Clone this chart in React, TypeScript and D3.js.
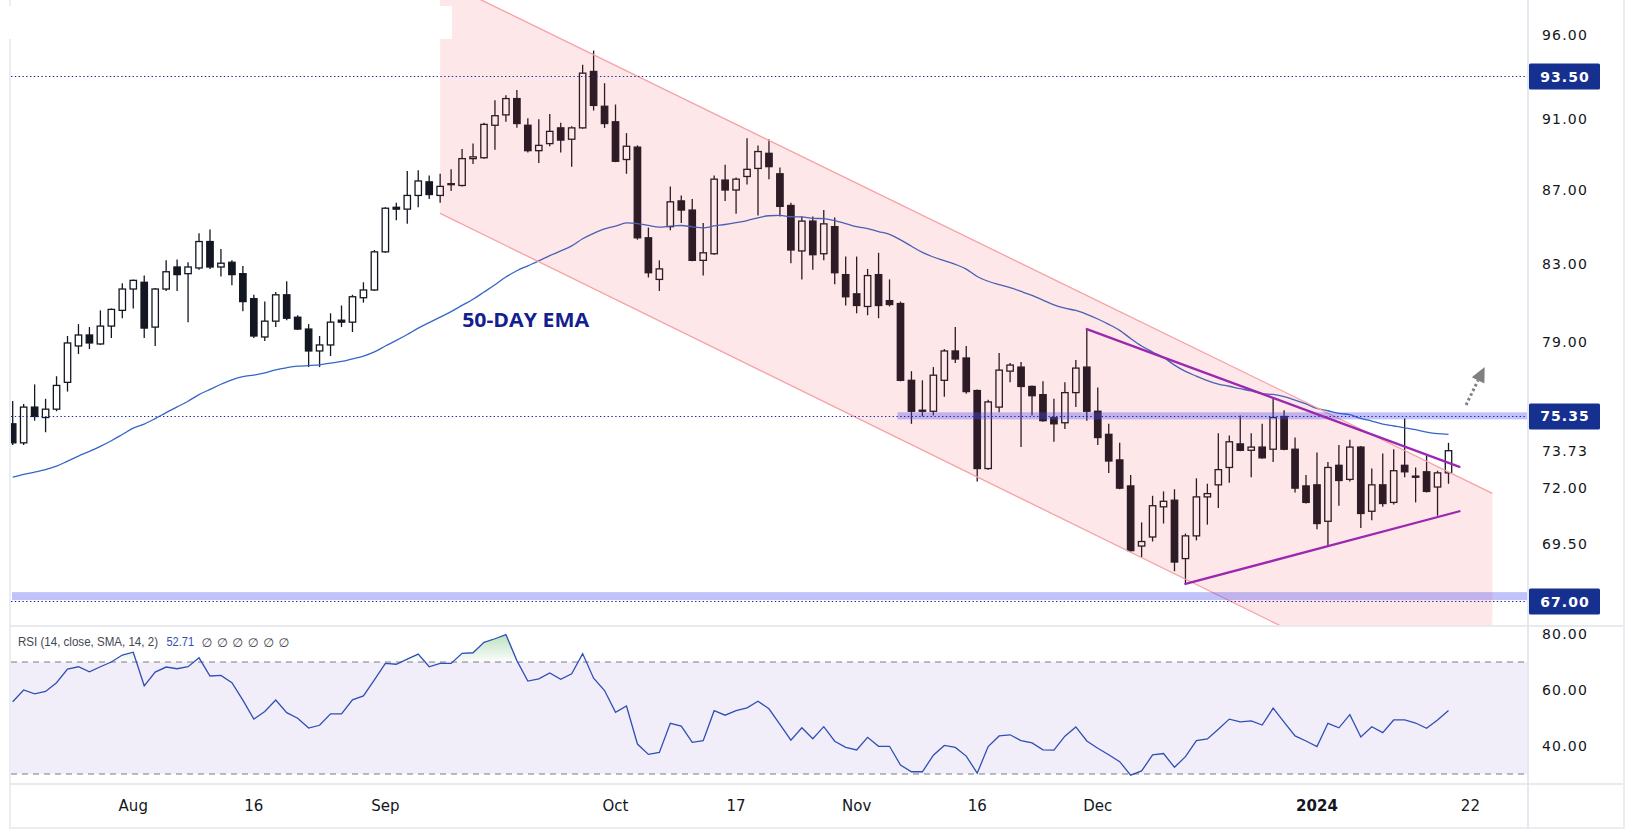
import React from 'react';
import * as d3 from 'd3';

// ---------- DATA (WTI crude oil, daily) ----------
const dates: string[] = [
  '2023-07-17','2023-07-18','2023-07-19','2023-07-20','2023-07-21','2023-07-24','2023-07-25','2023-07-26','2023-07-27','2023-07-28','2023-07-31',
  '2023-08-01','2023-08-02','2023-08-03','2023-08-04','2023-08-07','2023-08-08','2023-08-09','2023-08-10','2023-08-11','2023-08-14','2023-08-15','2023-08-16','2023-08-17','2023-08-18','2023-08-21','2023-08-22','2023-08-23','2023-08-24','2023-08-25','2023-08-28','2023-08-29','2023-08-30','2023-08-31',
  '2023-09-01','2023-09-04','2023-09-05','2023-09-06','2023-09-07','2023-09-08','2023-09-11','2023-09-12','2023-09-13','2023-09-14','2023-09-15','2023-09-18','2023-09-19','2023-09-20','2023-09-21','2023-09-22','2023-09-25','2023-09-26','2023-09-27','2023-09-28','2023-09-29',
  '2023-10-02','2023-10-03','2023-10-04','2023-10-05','2023-10-06','2023-10-09','2023-10-10','2023-10-11','2023-10-12','2023-10-13','2023-10-16','2023-10-17','2023-10-18','2023-10-19','2023-10-20','2023-10-23','2023-10-24','2023-10-25','2023-10-26','2023-10-27','2023-10-30','2023-10-31',
  '2023-11-01','2023-11-02','2023-11-03','2023-11-06','2023-11-07','2023-11-08','2023-11-09','2023-11-10','2023-11-13','2023-11-14','2023-11-15','2023-11-16','2023-11-17','2023-11-20','2023-11-21','2023-11-22','2023-11-23','2023-11-24','2023-11-27','2023-11-28','2023-11-29','2023-11-30',
  '2023-12-01','2023-12-04','2023-12-05','2023-12-06','2023-12-07','2023-12-08','2023-12-11','2023-12-12','2023-12-13','2023-12-14','2023-12-15','2023-12-18','2023-12-19','2023-12-20','2023-12-21','2023-12-22','2023-12-26','2023-12-27','2023-12-28','2023-12-29',
  '2024-01-02','2024-01-03','2024-01-04','2024-01-05','2024-01-08','2024-01-09','2024-01-10','2024-01-11','2024-01-12','2024-01-15','2024-01-16','2024-01-17','2024-01-18',
];
const futureDates: string[] = ['2024-01-19', '2024-01-22', '2024-01-23', '2024-01-24', '2024-01-25'];

const open: number[] = [
  75.0, 74.1, 75.8, 75.3, 75.7, 77.0, 78.8, 79.35, 78.9, 79.8, 80.6, 81.7, 82.05, 79.75, 81.7, 82.85, 82.5, 82.8, 84.2, 82.85,
  83.1, 82.5, 81.2, 79.25, 80.05, 81.4, 80.25, 79.65, 78.55, 78.85, 80.1, 80.0, 81.25, 81.65, 83.65, 86.05, 85.95, 86.7, 87.45, 86.7,
  87.3, 87.25, 88.75, 88.8, 90.65, 91.25, 92.2, 90.65, 89.2, 89.6, 90.5, 89.85, 90.5, 93.8, 91.75, 90.85, 88.7, 89.4, 84.4, 82.2,
  85.0, 86.4, 85.9, 83.2, 83.55, 87.55, 87.0, 87.75, 88.2, 89.05, 87.9, 86.15, 83.7, 85.3, 83.55, 85.0, 82.45, 81.45, 80.8, 82.45,
  81.1, 80.95, 77.1, 75.65, 75.6, 77.1, 78.55, 78.2, 76.6, 72.9, 75.8, 77.55, 77.75, 76.8, 76.4, 75.3, 75.05, 76.5, 77.75, 75.6,
  74.5, 73.3, 72.1, 69.4, 69.8, 71.15, 71.45, 68.85, 69.85, 71.6, 72.15, 72.95, 74.05, 73.75, 73.9, 73.8, 75.35, 73.8, 72.1, 72.15,
  70.5, 73.05, 72.4, 73.9, 70.95, 72.15, 71.35, 73.05, 72.55, 72.75, 72.05, 72.7,
];
const high: number[] = [
  76.1, 75.95, 76.9, 76.2, 77.3, 79.3, 79.9, 79.75, 80.6, 80.7, 82.0, 82.2, 82.4, 81.75, 83.2, 83.25, 83.1, 84.65, 84.85, 83.8,
  83.2, 82.9, 81.4, 81.05, 81.55, 82.1, 80.35, 79.9, 79.3, 80.45, 80.85, 81.4, 82.05, 83.75, 86.05, 86.3, 88.05, 88.1, 87.8, 87.9,
  88.15, 89.3, 89.6, 90.8, 92.1, 92.4, 92.7, 91.05, 91.0, 91.3, 90.8, 90.6, 94.2, 95.05, 93.1, 91.85, 90.2, 89.5, 84.95, 83.2,
  87.2, 86.7, 86.5, 85.2, 87.8, 88.4, 87.7, 89.9, 89.5, 89.85, 88.25, 86.3, 85.55, 85.55, 85.9, 85.5, 83.4, 83.4, 82.75, 83.6,
  82.2, 81.05, 77.55, 77.1, 77.75, 78.65, 79.75, 78.8, 76.65, 76.15, 78.45, 77.95, 78.0, 76.85, 77.05, 76.2, 77.0, 78.1, 79.65, 76.75,
  75.0, 74.1, 72.6, 70.45, 71.65, 71.85, 71.95, 69.95, 72.45, 72.2, 74.55, 74.45, 75.4, 74.55, 75.0, 76.2, 75.65, 74.35, 72.6, 73.65,
  73.2, 74.0, 74.25, 73.95, 72.9, 73.6, 73.8, 75.25, 72.95, 73.55, 72.8, 74.1,
];
const low: number[] = [
  74.0, 74.0, 75.15, 74.6, 75.6, 76.55, 78.4, 78.65, 78.85, 79.2, 80.2, 80.7, 79.2, 78.8, 81.6, 81.6, 80.0, 82.7, 82.75, 82.35,
  81.9, 80.55, 79.2, 79.05, 79.75, 80.1, 79.6, 77.75, 77.75, 78.3, 79.75, 79.5, 81.0, 81.6, 83.6, 85.35, 85.15, 86.05, 86.5, 86.3,
  86.95, 87.2, 88.45, 88.75, 89.25, 90.85, 90.5, 89.1, 88.5, 89.45, 89.1, 88.3, 90.45, 91.5, 90.5, 88.55, 87.9, 84.3, 82.3, 81.6,
  84.8, 85.2, 83.15, 82.4, 83.5, 86.4, 85.7, 87.3, 85.6, 87.6, 85.55, 83.05, 82.2, 82.7, 83.2, 81.95, 80.85, 80.45, 80.35, 80.2,
  80.8, 77.05, 75.0, 75.35, 75.4, 76.3, 77.95, 76.45, 72.3, 72.85, 75.55, 77.0, 73.9, 75.4, 75.1, 74.15, 74.75, 75.8, 75.15, 74.0,
  72.7, 71.95, 69.15, 68.9, 69.6, 70.4, 68.3, 67.75, 69.65, 70.35, 71.1, 72.25, 73.7, 72.5, 73.35, 73.2, 73.75, 71.8, 71.3, 70.15,
  69.45, 71.2, 72.3, 70.2, 70.55, 71.15, 71.25, 72.5, 71.35, 71.8, 70.75, 72.2,
];
const close: number[] = [
  74.1, 75.8, 75.35, 75.7, 76.85, 78.95, 79.35, 78.95, 79.8, 80.65, 81.7, 82.15, 79.7, 81.7, 82.6, 82.45, 82.85, 84.2, 82.85, 83.05,
  82.45, 81.05, 79.3, 80.05, 81.4, 80.2, 79.65, 78.55, 78.85, 80.0, 80.0, 81.3, 81.65, 83.65, 86.0, 85.95, 86.7, 87.5, 86.75, 87.2,
  87.35, 88.75, 88.85, 90.7, 91.2, 92.2, 90.75, 89.2, 89.5, 90.3, 89.8, 90.5, 93.7, 91.8, 90.75, 88.6, 89.45, 84.4, 82.55, 82.75,
  86.35, 85.9, 83.2, 83.6, 87.6, 87.0, 87.6, 88.15, 89.15, 88.3, 86.1, 83.75, 85.3, 83.5, 85.15, 82.55, 81.3, 80.85, 82.4, 80.85,
  80.9, 77.1, 75.6, 75.6, 77.35, 78.55, 78.15, 76.55, 72.9, 76.05, 77.6, 77.85, 76.8, 76.35, 75.15, 75.0, 76.5, 77.7, 75.6, 74.35,
  73.25, 72.0, 69.2, 69.6, 71.2, 71.4, 68.7, 69.85, 71.6, 71.75, 72.85, 74.15, 73.75, 73.9, 73.4, 75.3, 73.8, 72.0, 71.35, 70.4,
  72.95, 72.35, 73.9, 70.85, 72.15, 71.3, 72.8, 72.75, 72.5, 71.85, 72.7, 73.73,
];
const rsi: number[] = [
  55.8, 60.0, 58.6, 59.5, 62.6, 67.5, 68.3, 66.5, 68.3, 70.0, 72.5, 73.5, 61.5, 66.4, 68.2, 67.6, 68.3, 71.5, 65.0, 65.2,
  62.6, 56.4, 49.6, 52.3, 56.4, 51.9, 49.9, 46.4, 47.4, 51.5, 51.5, 56.5, 57.9, 63.6, 69.5, 69.2, 71.0, 72.8, 68.3, 69.5,
  69.5, 73.1, 73.3, 77.0, 78.3, 79.8, 70.5, 63.2, 64.0, 66.1, 63.8, 65.8, 73.0, 64.2, 59.8, 52.0, 54.3, 40.7, 37.0, 37.7,
  48.1, 47.1, 41.3, 41.9, 52.6, 51.0, 52.6, 53.6, 56.0, 53.3, 47.7, 42.1, 46.5, 42.6, 46.9, 41.7, 39.5, 38.6, 43.1, 39.9,
  39.9, 33.2, 30.8, 30.8, 36.7, 40.2, 39.5, 36.4, 30.3, 39.8, 43.6, 44.0, 41.9, 41.1, 38.6, 38.5, 43.5, 46.8, 41.8, 39.2,
  36.9, 34.4, 29.6, 31.1, 36.8, 37.3, 32.4, 36.2, 41.9, 42.5, 46.0, 49.6, 48.6, 49.0, 47.5, 53.5, 48.5, 43.6, 41.8, 39.8,
  48.1, 46.5, 51.2, 43.2, 46.9, 44.8, 49.3, 49.3, 48.2, 46.3, 49.3, 52.71,
];
const emaSeed = 72.5; // 50-day EMA value on the first visible bar
const emaPeriod = 50;

const priceTicks: number[] = [96, 91, 87, 83, 79, 72, 69.5];
const rsiTicks: number[] = [80, 60, 40];
const timeTicks = [
  { date: '2023-08-01', label: 'Aug' }, { date: '2023-08-16', label: '16' }, { date: '2023-09-01', label: 'Sep' },
  { date: '2023-10-02', label: 'Oct' }, { date: '2023-10-17', label: '17' }, { date: '2023-11-01', label: 'Nov' },
  { date: '2023-11-16', label: '16' }, { date: '2023-12-01', label: 'Dec' }, { date: '2024-01-02', label: '2024', bold: true },
  { date: '2024-01-22', label: '22' },
];

// drawings: anchors in (bar index, price)
const channelUpper = [{ i: 39, p: 99.41 }, { i: 135, p: 71.76 }];
const channelLower = [{ i: 39, p: 85.72 }, { i: 135, p: 61.76 }];
const triangleUpper = [{ i: 98, p: 79.65 }, { i: 132, p: 72.98 }];
const triangleLower = [{ i: 107, p: 67.75 }, { i: 132, p: 70.95 }];
const levels = [
  { p: 93.5, label: '93.50', band: null as null | number[], bandStart: 0 },
  { p: 75.35, label: '75.35', band: [75.21, 75.55], bandStart: 81 },
  { p: 67.0, label: '67.00', band: [67.06, 67.4], bandStart: 0 },
];
const arrowAnchors = { tail: { i: 132.6, p: 75.9 }, tip: { i: 134.3, p: 77.76 } };
const emaLabel = { i: 46.8, p: 80.1, text: '50-DAY EMA' };
const rsiLegend = { title: 'RSI (14, close, SMA, 14, 2)', empties: 6 };

// ---------- CHART ----------
const W = 1634, H = 836;
const PL = 11, PR = 1527; // plot left / right
const PT = 0, PB = 625; // price pane
const RT = 627, RB = 783; // rsi pane
const FONT = "'DejaVu Sans', Verdana, sans-serif";
const INK = '#131722';
const FRAME = '#E0E3EB';

export default function App() {
  const allDates = dates.concat(futureDates);
  const x = d3.scaleLinear().domain([0, dates.length - 1]).range([12.7, 1448.5]);
  const y = d3.scaleLog().domain([67, 93.5]).range([601.5, 76.5]);
  const yR = d3.scaleLinear().domain([30, 70]).range([774, 662]);

  const k = 2 / (emaPeriod + 1);
  const ema: number[] = [];
  close.forEach((c, i) => {
    ema.push(i === 0 ? emaSeed : ema[i - 1] + k * (c - ema[i - 1]));
  });

  const emaPath = d3.line<number>().x((_, i) => x(i)).y((v) => y(v)).curve(d3.curveMonotoneX)(ema) || '';
  const rsiPath = d3.line<number>().x((_, i) => x(i)).y((v) => yR(v))(rsi) || '';
  const rsiArea = d3.area<number>().x((_, i) => x(i)).y0(yR(70)).y1((v) => yR(v))(rsi) || '';

  const P = (a: { i: number; p: number }) => [x(a.i), y(a.p)];
  const chPoly = [P(channelUpper[0]), P(channelUpper[1]), P(channelLower[1]), P(channelLower[0])]
    .map((p) => p.join(',')).join(' ');

  const [tx, ty] = P(arrowAnchors.tail);
  const [hx, hy] = P(arrowAnchors.tip);
  const len = Math.hypot(hx - tx, hy - ty);
  const ux = (hx - tx) / len, uy = (hy - ty) / len;
  const bx = hx - 15 * ux, by = hy - 15 * uy;
  const nx = -uy, ny = ux;
  const head = [[hx, hy], [bx + 7 * nx, by + 7 * ny], [bx - 7 * nx, by - 7 * ny]].map((p) => p.join(',')).join(' ');

  const candles = open.map((o, i) => ({ i, o, h: high[i], l: low[i], c: close[i] }));
  const bw = 6.4;

  return (
    <div style={{ position: 'absolute', left: 0, top: 0, width: W, height: H, background: '#fff' }}>
      <svg width={W} height={H} viewBox={`0 0 ${W} ${H}`} style={{ display: 'block' }}>
        <defs>
          <clipPath id="priceClip"><rect x={PL} y={PT} width={PR - PL} height={PB - PT} /></clipPath>
          <clipPath id="rsiClip"><rect x={PL} y={RT} width={PR - PL} height={RB - RT} /></clipPath>
          <clipPath id="obClip"><rect x={PL} y={RT} width={PR - PL} height={yR(70) - RT} /></clipPath>
          <linearGradient id="obGrad" x1="0" y1={yR(80)} x2="0" y2={yR(70)} gradientUnits="userSpaceOnUse">
            <stop offset="0%" stopColor="rgb(76,175,80)" stopOpacity={0.38} />
            <stop offset="100%" stopColor="rgb(76,175,80)" stopOpacity={0.02} />
          </linearGradient>
        </defs>
        <rect x={0} y={0} width={W} height={H} fill="#fff" />

        {/* price pane */}
        <g clipPath="url(#priceClip)">
          {candles.map((d) => {
            const up = d.c >= d.o;
            const yt = y(Math.max(d.o, d.c));
            const yb = y(Math.min(d.o, d.c));
            const cx = x(d.i);
            const bh = Math.max(yb - yt, 1);
            return (
              <g key={d.i}>
                <line x1={cx} x2={cx} y1={y(d.h)} y2={yt} stroke={INK} strokeWidth={1.3} />
                <line x1={cx} x2={cx} y1={yt + bh} y2={y(d.l)} stroke={INK} strokeWidth={1.3} />
                <rect x={cx - bw / 2} y={yt} width={bw} height={bh}
                  fill={up ? '#ffffff' : INK} stroke={INK} strokeWidth={1.3} />
              </g>
            );
          })}
          <path d={emaPath} fill="none" stroke="#3566c6" strokeWidth={1.3} />
          {/* descending channel */}
          <polygon points={chPoly} fill="rgba(242,54,69,0.12)" />
          <line x1={P(channelUpper[0])[0]} y1={P(channelUpper[0])[1]} x2={P(channelUpper[1])[0]} y2={P(channelUpper[1])[1]}
            stroke="#F7A1A6" strokeWidth={1.3} />
          <line x1={P(channelLower[0])[0]} y1={P(channelLower[0])[1]} x2={P(channelLower[1])[0]} y2={P(channelLower[1])[1]}
            stroke="#F7A1A6" strokeWidth={1.3} />
          {/* horizontal levels */}
          {levels.map((lv) => lv.band ? (
            <rect key={'b' + lv.label} x={lv.bandStart === 0 ? PL + 1 : x(lv.bandStart) - 3} y={y(lv.band[1])}
              width={PR - (lv.bandStart === 0 ? PL + 1 : x(lv.bandStart) - 3)} height={y(lv.band[0]) - y(lv.band[1])}
              fill="rgba(80,80,240,0.35)" />
          ) : null)}
          {levels.map((lv) => (
            <line key={'l' + lv.label} x1={PL} x2={PR} y1={y(lv.p)} y2={y(lv.p)}
              stroke="#1E2A9C" strokeWidth={1.2} strokeDasharray="1.4 2.4" />
          ))}
          {/* triangle */}
          {[triangleUpper, triangleLower].map((t, j) => (
            <line key={'t' + j} x1={P(t[0])[0]} y1={P(t[0])[1]} x2={P(t[1])[0]} y2={P(t[1])[1]}
              stroke="#9C27B0" strokeWidth={2.3} strokeLinecap="round" />
          ))}
          {/* breakout arrow */}
          <line x1={tx} y1={ty} x2={bx} y2={by} stroke="#808080" strokeWidth={3} strokeDasharray="2.6 2.6" />
          <polygon points={head} fill="#808080" />
          <text x={x(emaLabel.i)} y={y(emaLabel.p)} textAnchor="middle" dominantBaseline="central"
            fontFamily="'Open Sans', 'DejaVu Sans', sans-serif" fontWeight={700} fontSize={19} fill="#14208F"
            textLength={127} lengthAdjust="spacingAndGlyphs">{emaLabel.text}</text>
        </g>
        <rect x={0} y={6} width={452} height={33} fill="#fff" />

        {/* rsi pane */}
        <rect x={PL} y={yR(70)} width={PR - PL} height={yR(30) - yR(70)} fill="rgba(126,87,194,0.1)" />
        {[70, 30].map((v) => (
          <line key={v} x1={PL} x2={PR} y1={yR(v)} y2={yR(v)} stroke="#787B86" strokeWidth={1} strokeDasharray="6 5" />
        ))}
        <g clipPath="url(#rsiClip)">
          <path d={rsiArea} fill="url(#obGrad)" clipPath="url(#obClip)" />
          <path d={rsiPath} fill="none" stroke="#2f4fb5" strokeWidth={1.3} />
        </g>
        <text x={18} y={642} dominantBaseline="central" fontFamily="'Liberation Sans', Arial, sans-serif" fontSize={12.5} fill="#434651"
          textLength={140} lengthAdjust="spacingAndGlyphs">
          {rsiLegend.title}
        </text>
        <text x={166.5} y={642} dominantBaseline="central" fontFamily="'Liberation Sans', Arial, sans-serif" fontSize={12.5} fill="#2f4fb5"
          textLength={27.5} lengthAdjust="spacingAndGlyphs">
          {rsi[rsi.length - 1].toFixed(2)}
        </text>
        {d3.range(rsiLegend.empties).map((j) => (
          <text key={j} x={207 + j * 15.4} y={642} textAnchor="middle" dominantBaseline="central"
            fontFamily="'DejaVu Sans', sans-serif" fontSize={12.5} fill="#434651">∅</text>
        ))}

        {/* frame */}
        <line x1={10} x2={10} y1={0} y2={6} stroke="#ECEDF2" strokeWidth={2} />
        <line x1={10} x2={10} y1={39} y2={829} stroke="#ECEDF2" strokeWidth={2} />
        <line x1={10} x2={1625} y1={626} y2={626} stroke={FRAME} strokeWidth={1.6} />
        <line x1={10} x2={1625} y1={784} y2={784} stroke={FRAME} strokeWidth={1.6} />
        <line x1={10} x2={1625} y1={828} y2={828} stroke="#ECEDF2" strokeWidth={2} />
        <line x1={1528} x2={1528} y1={0} y2={828} stroke={FRAME} strokeWidth={1.6} />
        <line x1={1624} x2={1624} y1={0} y2={829} stroke="#ECEDF2" strokeWidth={2} />

        {/* price axis */}
        {priceTicks.map((t) => (
          <text key={t} x={1565} y={y(t)} textAnchor="middle" dominantBaseline="central" fontFamily={FONT}
            fontSize={14} letterSpacing={1.2} fill={INK}>{t.toFixed(2)}</text>
        ))}
        <rect x={1529} y={y(close[close.length - 1]) - 17} width={72} height={34} fill="#fff" />
        <text x={1565} y={y(close[close.length - 1])} textAnchor="middle" dominantBaseline="central" fontFamily={FONT}
          fontSize={14} letterSpacing={1.2} fill={INK}>{close[close.length - 1].toFixed(2)}</text>
        {levels.map((lv) => (
          <g key={'ax' + lv.label}>
            <rect x={1529} y={y(lv.p) - 13} width={71} height={26} rx={1.5} fill="#15308F" />
            <text x={1565} y={y(lv.p)} textAnchor="middle" dominantBaseline="central" fontFamily={FONT}
              fontSize={14} fontWeight={700} letterSpacing={1} fill="#fff">{lv.label}</text>
          </g>
        ))}
        {rsiTicks.map((t) => (
          <text key={'r' + t} x={1565} y={yR(t)} textAnchor="middle" dominantBaseline="central" fontFamily={FONT}
            fontSize={14} letterSpacing={1.2} fill={INK}>{t.toFixed(2)}</text>
        ))}

        {/* time axis */}
        {timeTicks.map((t) => {
          const idx = allDates.indexOf(t.date);
          return (
            <text key={t.date} x={x(idx)} y={806} textAnchor="middle" dominantBaseline="central" fontFamily={FONT}
              fontSize={15} fontWeight={t.bold ? 700 : 400} fill={INK}>{t.label}</text>
          );
        })}
      </svg>
    </div>
  );
}
